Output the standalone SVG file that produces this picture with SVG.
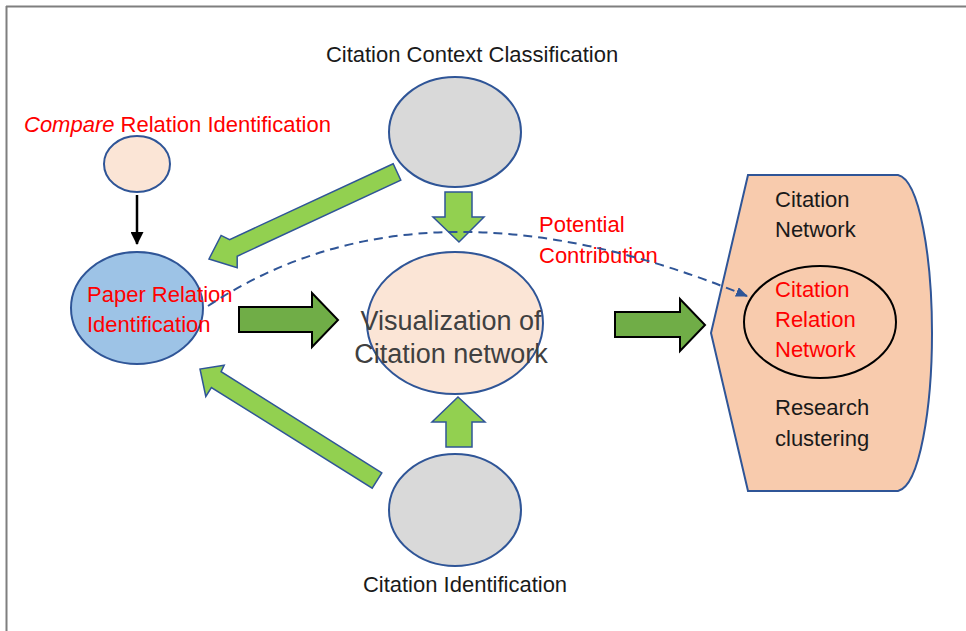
<svg xmlns="http://www.w3.org/2000/svg" width="966" height="631" viewBox="0 0 966 631">
<style>
.cal{font-family:"Liberation Sans",Arial,sans-serif;font-size:22px;}
.red{fill:#FF0000;}
.blk{fill:#1a1a1a;}
.node{stroke:#2F5597;stroke-width:2;}
.lg{fill:#92D050;stroke:#2F5597;stroke-width:1.5;stroke-linejoin:miter;}
.dg{fill:#70AD47;stroke:#000;stroke-width:2;stroke-linejoin:miter;}
</style>
<defs>
<marker id="dashHead" markerWidth="12" markerHeight="10" refX="11" refY="5" orient="auto" markerUnits="userSpaceOnUse">
<path d="M0,0 L12,5 L0,10 Z" fill="#2F5597"/>
</marker>
<marker id="blackHead" markerWidth="13" markerHeight="13" refX="12" refY="6.5" orient="auto" markerUnits="userSpaceOnUse">
<path d="M0,0 L13,6.5 L0,13 Z" fill="#000"/>
</marker>
</defs>
<rect x="0" y="0" width="966" height="631" fill="#fff"/>
<g id="frame" stroke="#7f7f7f" stroke-width="2" fill="none">
<line x1="6" y1="6.5" x2="966" y2="6.5"/>
<line x1="6.5" y1="6" x2="6.5" y2="631"/>
</g>

<g id="node-compare">
<ellipse class="node" cx="137" cy="164" rx="33" ry="28" fill="#FBE5D6"/>
<text class="cal red" x="24" y="132"><tspan font-style="italic">Compare</tspan> Relation Identification</text>
</g>

<g id="node-paper">
<ellipse class="node" cx="137" cy="308" rx="66" ry="56" fill="#9DC3E6"/>
<text class="cal red" x="87" y="302">Paper Relation</text>
<text class="cal red" x="87" y="332">Identification</text>
</g>

<g id="node-context">
<ellipse class="node" cx="455" cy="132" rx="66" ry="55" fill="#D9D9D9"/>
<text class="cal blk" x="472" y="62" text-anchor="middle">Citation Context Classification</text>
</g>

<g id="node-visual">
<ellipse class="node" cx="455" cy="323" rx="88" ry="71" fill="#FBE5D6"/>
<text x="451" y="330" text-anchor="middle" font-family="Liberation Sans,Arial,sans-serif" font-size="27" fill="#404040">Visualization of</text>
<text x="451" y="363" text-anchor="middle" font-family="Liberation Sans,Arial,sans-serif" font-size="27" fill="#404040">Citation network</text>
</g>

<g id="node-identification">
<ellipse class="node" cx="455" cy="510" rx="66" ry="56" fill="#D9D9D9"/>
<text class="cal blk" x="465" y="592" text-anchor="middle">Citation Identification</text>
</g>

<g id="node-result">
<path class="node" d="M748,175 L898,175 C920,180 932,260 932,333 C932,406 920,486 898,491 L748,491 L711,333 Z" fill="#F8CBAD"/>
<ellipse cx="820" cy="322" rx="76" ry="56" fill="none" stroke="#000" stroke-width="2"/>
<text class="cal blk" x="775" y="207">Citation</text>
<text class="cal blk" x="775" y="237">Network</text>
<text class="cal red" x="775" y="297">Citation</text>
<text class="cal red" x="775" y="327">Relation</text>
<text class="cal red" x="775" y="357">Network</text>
<text class="cal blk" x="775" y="415">Research</text>
<text class="cal blk" x="775" y="446">clustering</text>
</g>

<g id="label-potential">
<text class="cal red" x="539" y="232">Potential</text>
<text class="cal red" x="539" y="263">Contribution</text>
</g>

<g id="connectors">
<line x1="137" y1="195" x2="137" y2="244" stroke="#000" stroke-width="2.5" marker-end="url(#blackHead)"/>
<polygon class="lg" points="393.2,163.8 229.6,239.6 221.1,235.4 209,259 237.2,267.8 237.2,256.2 400.8,180.2"/>
<polygon class="lg" points="381.8,472.9 221.1,371.6 224.2,365.2 200,369 205.8,396.5 211.4,387.6 372.2,488.1"/>
<polygon class="lg" points="445,192 472,192 472,217 484,217 459,242 433,217 445,217"/>
<polygon class="lg" points="446,447 472,447 472,422 485,422 458,397 432,422 446,422"/>
<polygon class="dg" points="239,307 312,307 312,293 338,320 312,347 312,332 239,332"/>
<polygon class="dg" points="615,312 680,312 680,299 705,325 680,351 680,337 615,337"/>
<path d="M208,306 Q424,163 747,296" fill="none" stroke="#2F5597" stroke-width="2" stroke-dasharray="9,6" marker-end="url(#dashHead)"/>
</g>
</svg>
